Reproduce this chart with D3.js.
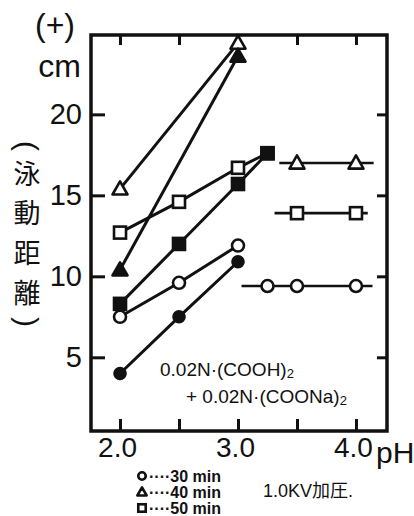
<!DOCTYPE html>
<html>
<head>
<meta charset="utf-8">
<script src="https://cdn.jsdelivr.net/npm/d3@7"></script>
<style>
  body { margin: 0; background: #fff; }
  svg text { fill: #111; }
</style>
</head>
<body>
<div id="chart"></div>
<script>
// values (pH vs migration distance, cm)
var ph3 = [2.0, 2.5, 3.0];
var ph4 = [2.0, 2.5, 3.0, 3.25];
var ph2 = [2.0, 3.0];

var circleFilled = [4.0, 7.5, 10.9];
var circleOpen = [7.5, 9.6, 11.9];
var squareFilled = [8.3, 12.0, 15.7, 17.6];
var squareOpen = [12.7, 14.6, 16.7, 17.6];
var triangleOpen = [15.4, 24.4];
var triangleFilled = [10.4, 23.6];

// flat runs on the right side
var flatLevel = [9.4, 13.9, 17.0];
var flatFrom = [3.03, 3.31, 3.35];
var flatTo = [4.14, 4.10, 4.15];
var flatMarks = [[3.25, 3.5, 4.0], [3.5, 4.0], [3.5, 4.0]];
var flatShape = ["circle", "square", "triangle"];

var xTicks = [2.0, 2.5, 3.0, 3.5, 4.0];
var xLabels = [2.0, 3.0, 4.0];
var yTicks = [5, 10, 15, 20];

var legendRows = ["····30 min", "····40 min", "····50 min"];
var legendShapes = ["circle", "triangle", "square"];

var W = 414, H = 516;
var padL = 91, padR = 387, padT = 35, padB = 431;

var svg = d3.select("#chart").append("svg")
    .attr("width", W)
    .attr("height", H);

var x = d3.scaleLinear().domain([1.754, 4.263]).range([padL, padR]);
var y = d3.scaleLinear().domain([0.45, 24.9]).range([padB, padT]);

var ink = "#111";
var font = "'Liberation Sans', Arial, sans-serif";

// frame
svg.append("rect")
    .attr("x", padL).attr("y", padT)
    .attr("width", padR - padL).attr("height", padB - padT)
    .attr("fill", "none").attr("stroke", ink).attr("stroke-width", 3.5);

function styleAxis(g) {
    g.select(".domain").remove();
    g.selectAll(".tick line").attr("stroke", ink).attr("stroke-width", 3);
    g.selectAll(".tick text").attr("fill", ink).attr("font-family", font);
}

svg.append("g")
    .attr("transform", "translate(0," + padB + ")")
    .call(d3.axisBottom(x).tickValues(xTicks).tickSize(-12).tickPadding(6)
        .tickFormat(function(d) { return xLabels.indexOf(d) >= 0 ? d.toFixed(1) : ""; }))
    .call(styleAxis)
    .selectAll(".tick text").attr("font-size", 28).attr("dx", -3);

svg.append("g")
    .attr("transform", "translate(0," + padT + ")")
    .call(d3.axisTop(x).tickValues(xTicks).tickSize(-10).tickFormat(""))
    .call(styleAxis);

svg.append("g")
    .attr("transform", "translate(" + padL + ",0)")
    .call(d3.axisLeft(y).tickValues(yTicks).tickSize(-14).tickPadding(9).tickFormat(d3.format("d")))
    .call(styleAxis)
    .selectAll(".tick text").attr("font-size", 29);

svg.append("g")
    .attr("transform", "translate(" + padR + ",0)")
    .call(d3.axisRight(y).tickValues(yTicks).tickSize(-10).tickFormat(""))
    .call(styleAxis);

// axis captions
svg.append("text").attr("x", 376).attr("y", 463)
    .attr("font-family", font).attr("font-size", 30).text("pH");
svg.append("text").attr("x", 55).attr("y", 36).attr("text-anchor", "middle")
    .attr("font-family", font).attr("font-size", 32).text("(+)");
svg.append("text").attr("x", 81).attr("y", 77).attr("text-anchor", "end")
    .attr("font-family", font).attr("font-size", 32).text("cm");

// vertical caption: (泳動距離) stacked, brackets turned sideways
var vchars = ["泳", "動", "距", "離"];
var vy = [184, 223, 263, 303];
svg.append("g").selectAll("text")
    .data(vchars).enter().append("text")
    .attr("x", 27)
    .attr("y", function(d, i) { return vy[i]; })
    .attr("text-anchor", "middle")
    .attr("font-family", "'Noto Sans CJK JP', sans-serif")
    .attr("font-size", 27)
    .text(function(d) { return d; });

svg.append("text")
    .attr("transform", "translate(27,146) rotate(90)")
    .attr("text-anchor", "middle").attr("dy", "0.35em")
    .attr("font-family", font).attr("font-size", 30).text("(");
svg.append("text")
    .attr("transform", "translate(27,322) rotate(90)")
    .attr("text-anchor", "middle").attr("dy", "0.35em")
    .attr("font-family", font).attr("font-size", 30).text(")");

// marker drawing
function marker(g, shape, filled, cx, cy, s) {
    var fill = filled ? ink : "#fff";
    s = s || 1;
    if (shape === "circle") {
        g.append("circle").attr("cx", cx).attr("cy", cy).attr("r", (filled ? 5.5 : 6) * s)
            .attr("fill", fill).attr("stroke", ink).attr("stroke-width", 2.6);
    } else if (shape === "square") {
        var h = 6 * s;
        g.append("rect").attr("x", cx - h).attr("y", cy - h).attr("width", 2 * h).attr("height", 2 * h)
            .attr("fill", fill).attr("stroke", ink).attr("stroke-width", 2.6);
    } else {
        var t = 7.5 * s;
        g.append("path")
            .attr("d", "M" + cx + "," + (cy - t) + "L" + (cx + t) + "," + (cy + t * 0.75) + "L" + (cx - t) + "," + (cy + t * 0.75) + "Z")
            .attr("fill", fill).attr("stroke", ink).attr("stroke-width", 2.6).attr("stroke-linejoin", "round");
    }
}

var seriesList = [
    { xs: ph3, ys: circleFilled, shape: "circle", filled: true },
    { xs: ph3, ys: circleOpen, shape: "circle", filled: false },
    { xs: ph4, ys: squareFilled, shape: "square", filled: true },
    { xs: ph4, ys: squareOpen, shape: "square", filled: false },
    { xs: ph2, ys: triangleOpen, shape: "triangle", filled: false },
    { xs: ph2, ys: triangleFilled, shape: "triangle", filled: true }
];

var line = d3.line().x(function(d) { return x(d[0]); }).y(function(d) { return y(d[1]); });
var plot = svg.append("g");

seriesList.forEach(function(s) {
    var pts = s.xs.map(function(v, i) { return [v, s.ys[i]]; });
    plot.append("path").datum(pts).attr("d", line)
        .attr("fill", "none").attr("stroke", ink).attr("stroke-width", 3);
});

flatLevel.forEach(function(v, i) {
    plot.append("path").datum([[flatFrom[i], v], [flatTo[i], v]]).attr("d", line)
        .attr("fill", "none").attr("stroke", ink).attr("stroke-width", 2.6);
});

seriesList.forEach(function(s) {
    s.xs.forEach(function(v, i) {
        // shared end point of the two square runs is drawn dark
        var filled = s.filled || (s.shape === "square" && v === 3.25);
        marker(plot, s.shape, filled, x(v), y(s.ys[i]));
    });
});

flatLevel.forEach(function(v, i) {
    flatMarks[i].forEach(function(p) {
        marker(plot, flatShape[i], false, x(p), y(v));
    });
});

// solution note
var note = svg.append("g").attr("font-family", font).attr("font-size", 19);
var t1 = note.append("text").attr("x", 160).attr("y", 376);
t1.append("tspan").text("0.02N·(COOH)");
t1.append("tspan").attr("font-size", 13).attr("dy", 2).text("2");
var t2 = note.append("text").attr("x", 186).attr("y", 403);
t2.append("tspan").text("+ 0.02N·(COONa)");
t2.append("tspan").attr("font-size", 13).attr("dy", 2).text("2");

// legend
var legend = svg.append("g");
legendRows.forEach(function(r, i) {
    var ly = 476 + i * 16;
    marker(legend, legendShapes[i], false, 142, ly, 0.62);
    legend.append("text").attr("x", 149).attr("y", ly + 6)
        .attr("font-family", font)
        .attr("font-size", 16).attr("font-weight", "bold").text(r);
});

svg.append("text").attr("x", 263).attr("y", 497)
    .attr("font-family", "'Liberation Sans', 'Noto Sans CJK JP', sans-serif")
    .attr("font-size", 18).text("1.0KV加圧.");
</script>
</body>
</html>
